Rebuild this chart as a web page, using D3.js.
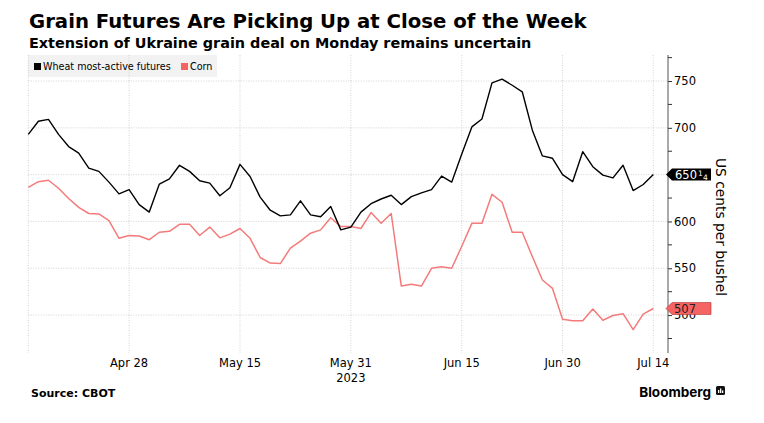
<!DOCTYPE html>
<html>
<head>
<meta charset="utf-8">
<script src="https://cdn.jsdelivr.net/npm/d3@7"></script>
<style>
  body { margin: 0; background: #fff; }
  svg { display: block; font-family: "DejaVu Sans", sans-serif; }
</style>
</head>
<body>
<div id="chart"></div>
<script>
// trading days, Apr 14 - Jul 14 2023
const DATES = [
  "2023-04-14", "2023-04-17", "2023-04-18", "2023-04-19", "2023-04-20", "2023-04-21",
  "2023-04-24", "2023-04-25", "2023-04-26", "2023-04-27", "2023-04-28",
  "2023-05-01", "2023-05-02", "2023-05-03", "2023-05-04", "2023-05-05",
  "2023-05-08", "2023-05-09", "2023-05-10", "2023-05-11", "2023-05-12",
  "2023-05-15", "2023-05-16", "2023-05-17", "2023-05-18", "2023-05-19",
  "2023-05-22", "2023-05-23", "2023-05-24", "2023-05-25", "2023-05-26",
  "2023-05-30", "2023-05-31",
  "2023-06-01", "2023-06-02", "2023-06-05", "2023-06-06", "2023-06-07", "2023-06-08", "2023-06-09",
  "2023-06-12", "2023-06-13", "2023-06-14", "2023-06-15", "2023-06-16",
  "2023-06-20", "2023-06-21", "2023-06-22", "2023-06-23",
  "2023-06-26", "2023-06-27", "2023-06-28", "2023-06-29", "2023-06-30",
  "2023-07-03", "2023-07-05", "2023-07-06", "2023-07-07",
  "2023-07-10", "2023-07-11", "2023-07-12", "2023-07-13", "2023-07-14"
];

const WHEAT = [
  693, 707, 709, 693, 680, 673, 657, 653.5, 642, 629.5, 634,
  618, 610, 640, 645.5, 660, 653.5, 643.5, 641, 627.5, 636,
  661, 648, 626, 612, 606, 607, 622, 607, 605, 616, 591, 594,
  610, 619, 624, 628, 618, 626.5, 630.5, 634, 648.5, 642, 672, 701,
  709.5, 748, 752, 745.5, 738.5, 697.5, 670, 667.5, 650,
  642.5, 674.5, 658.5, 649.5, 646.5, 660, 633, 639.5, 650.25
];

const CORN = [
  636.5, 642.5, 644, 635.5, 624.5, 615, 608.5, 608, 601, 582, 585,
  584.5, 580.5, 588.5, 589.5, 597, 597, 585, 594, 582.5, 586.5,
  592.5, 582, 561.5, 555.5, 555, 571.5, 579, 587.5, 591, 604, 594.5, 594.5,
  592.5, 609.5, 598, 608.5, 531, 533, 531, 550, 551.5, 550, 573.5, 598,
  598, 629, 620.5, 588.5, 588.5, 562.5, 537.5, 528.5, 495.5,
  494, 494, 506.5, 494.5, 499.5, 501.5, 484.5, 501, 507
];

const X_TICKS = ["2023-04-28", "2023-05-15", "2023-05-31", "2023-06-15", "2023-06-30", "2023-07-14"];
const X_TICK_LABELS = ["Apr 28", "May 15", "May 31", "Jun 15", "Jun 30", "Jul 14"];
const Y_TICKS = [500, 550, 600, 650, 700, 750];
const Y_MINOR = [475, 525, 575, 625, 675, 725, 775];

const W = 764, H = 423;
const PLOT = { left: 28.3, right: 653.3, top: 55, bottom: 353, axis: 668 };

const WHEAT_COLOR = "#000";
const CORN_COLOR = "#f47b7b";
const CORN_TAG = "#f56363";

const svg = d3.select("#chart").append("svg")
    .attr("width", W)
    .attr("height", H);

const x = d3.scalePoint()
    .domain(DATES)
    .range([PLOT.left, PLOT.right]);

const y = d3.scaleLinear()
    .domain([459.5, 777.8])
    .range([PLOT.bottom, PLOT.top]);

// titles
svg.append("text")
    .attr("x", 29).attr("y", 28)
    .attr("font-size", "19.7px").attr("font-weight", "bold")
    .text("Grain Futures Are Picking Up at Close of the Week");

svg.append("text")
    .attr("x", 29).attr("y", 48)
    .attr("font-size", "14.4px").attr("font-weight", "bold")
    .text("Extension of Ukraine grain deal on Monday remains uncertain");

// legend background (gridlines pass over it)
svg.append("rect")
    .attr("x", 28).attr("y", 55)
    .attr("width", 189).attr("height", 22)
    .attr("fill", "#f2f2f2");

// gridlines
const grid = svg.append("g")
    .attr("stroke", "#c8c8c8")
    .attr("stroke-width", 0.8)
    .attr("stroke-dasharray", "1,1.5");

grid.selectAll(".hgrid")
    .data(Y_TICKS)
    .enter().append("line")
    .attr("x1", PLOT.left).attr("x2", PLOT.axis)
    .attr("y1", d => y(d)).attr("y2", d => y(d));

grid.selectAll(".vgrid")
    .data([DATES[0]].concat(X_TICKS))
    .enter().append("line")
    .attr("x1", d => x(d)).attr("x2", d => x(d))
    .attr("y1", PLOT.top).attr("y2", PLOT.bottom);

// legend items
const legend = svg.append("g").attr("font-size", "9.6px");
legend.append("rect").attr("x", 34).attr("y", 63).attr("width", 7).attr("height", 7).attr("fill", WHEAT_COLOR);
legend.append("text").attr("x", 43).attr("y", 70).text("Wheat most-active futures");
legend.append("rect").attr("x", 181).attr("y", 63).attr("width", 7).attr("height", 7).attr("fill", CORN_TAG);
legend.append("text").attr("x", 190).attr("y", 70).text("Corn");

// lines
const line = d3.line()
    .x((d, i) => x(DATES[i]))
    .y(d => y(d));

svg.append("path")
    .datum(CORN)
    .attr("fill", "none")
    .attr("stroke", CORN_COLOR)
    .attr("stroke-width", 1.5)
    .attr("stroke-linejoin", "round")
    .attr("d", line);

svg.append("path")
    .datum(WHEAT)
    .attr("fill", "none")
    .attr("stroke", WHEAT_COLOR)
    .attr("stroke-width", 1.4)
    .attr("stroke-linejoin", "round")
    .attr("d", line);

// x axis labels
const xLabels = svg.append("g").attr("font-size", "11.5px").attr("text-anchor", "middle");
xLabels.selectAll(".xl")
    .data(X_TICKS)
    .enter().append("text")
    .attr("x", d => x(d))
    .attr("y", 367)
    .text((d, i) => X_TICK_LABELS[i]);
xLabels.append("text")
    .attr("x", x("2023-05-31"))
    .attr("y", 382)
    .text("2023");

// right axis
const yAxis = svg.append("g")
    .attr("transform", `translate(${PLOT.axis},0)`)
    .call(d3.axisRight(y).tickValues(Y_TICKS).tickSize(4).tickPadding(2).tickFormat(d3.format("d")));
yAxis.select(".domain").attr("stroke", "#555").attr("d", `M0,${PLOT.top}V${PLOT.bottom}`);
yAxis.selectAll(".tick line").attr("stroke", "#333");
yAxis.selectAll(".tick text").attr("font-size", "11.5px").attr("font-family", "DejaVu Sans").attr("fill", "#000");

yAxis.selectAll(".minor")
    .data(Y_MINOR.filter(d => y(d) >= PLOT.top && y(d) <= PLOT.bottom))
    .enter().append("line")
    .attr("x1", 0).attr("x2", 4)
    .attr("y1", d => y(d)).attr("y2", d => y(d))
    .attr("stroke", "#333");

svg.append("text")
    .attr("transform", `translate(716,${(y(500) + y(750)) / 2 + 29}) rotate(90)`)
    .attr("text-anchor", "middle")
    .attr("font-size", "13.8px")
    .text("US cents per bushel");

// last value tags
function tagPath(yc) {
    const x0 = PLOT.axis - 2, x1 = PLOT.axis + 4, x2 = 711, h = 6;
    return `M${x0},${yc}L${x1},${yc - h}L${x2},${yc - h}L${x2},${yc + h}L${x1},${yc + h}Z`;
}

const wy = y(WHEAT[WHEAT.length - 1]);
svg.append("path").attr("d", tagPath(wy)).attr("fill", "#000");
const wt = svg.append("text")
    .attr("x", 675).attr("y", wy + 4.5)
    .attr("font-size", "11.5px").attr("fill", "#fff");
wt.append("tspan").text("650");
wt.append("tspan").attr("font-size", "7.5px").attr("dx", 1).attr("dy", -3).text("1");
wt.append("tspan").attr("font-size", "7.5px").attr("dx", 0.3).attr("dy", 4.5).text("4");

const cy = y(CORN[CORN.length - 1]);
svg.append("path").attr("d", tagPath(cy))
    .attr("fill", CORN_TAG).attr("stroke", "#a33").attr("stroke-width", 0.6);
svg.append("text")
    .attr("x", 674).attr("y", cy + 4.5)
    .attr("font-size", "11.5px").attr("fill", "#222")
    .text(d3.format("d")(CORN[CORN.length - 1]));

// footer
svg.append("text")
    .attr("x", 31).attr("y", 397)
    .attr("font-size", "11px").attr("font-weight", "bold")
    .text("Source: CBOT");

svg.append("text")
    .attr("x", 711).attr("y", 397)
    .attr("text-anchor", "end")
    .attr("font-size", "13.5px").attr("font-weight", "bold")
    .attr("font-family", "Inter, 'DejaVu Sans', sans-serif")
    .text("Bloomberg");

const logo = svg.append("g").attr("transform", "translate(716,386)");
logo.append("rect").attr("width", 9).attr("height", 9).attr("rx", 1.5).attr("fill", "#111");
logo.append("rect").attr("x", 2).attr("y", 4).attr("width", 1.3).attr("height", 3).attr("fill", "#fff");
logo.append("rect").attr("x", 4).attr("y", 2.5).attr("width", 1.3).attr("height", 4.5).attr("fill", "#fff");
logo.append("rect").attr("x", 6).attr("y", 4.5).attr("width", 1.3).attr("height", 2.5).attr("fill", "#fff");
</script>
</body>
</html>
